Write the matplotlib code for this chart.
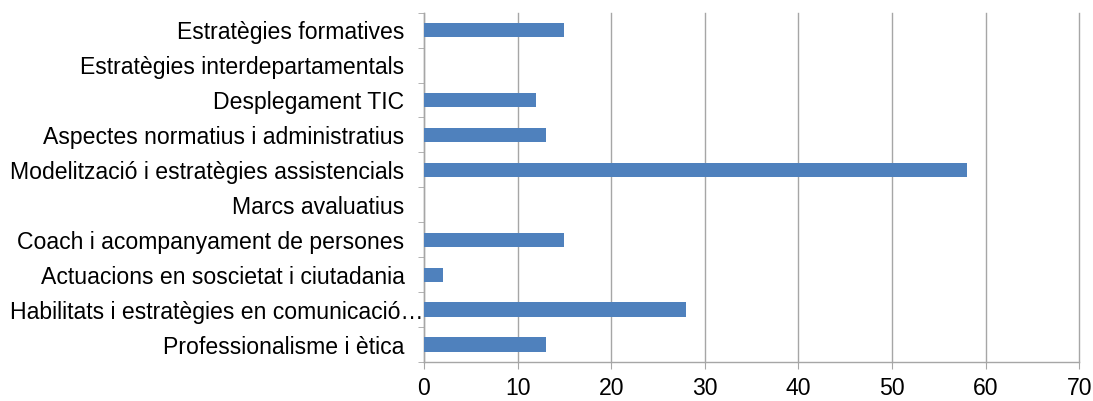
import matplotlib.pyplot as plt
import matplotlib.transforms as mtransforms
import numpy as np

categories = [
    "Estratègies formatives",
    "Estratègies interdepartamentals",
    "Desplegament TIC",
    "Aspectes normatius i administratius",
    "Modelització i estratègies assistencials",
    "Marcs avaluatius",
    "Coach i acompanyament de persones",
    "Actuacions en soscietat i ciutadania",
    "Habilitats i estratègies en comunicació…",
    "Professionalisme i ètica",
]
values = [15, 0, 12, 13, 58, 0, 15, 2, 28, 13]
x_ticks = [0, 10, 20, 30, 40, 50, 60, 70]

plt.rcParams["font.family"] = ["Liberation Sans", "DejaVu Sans"]
plt.rcParams["font.size"] = 16.6

fig = plt.figure(figsize=(10.93, 4.01), dpi=100)
ax = fig.add_axes([0.3879, 0.0973, 0.5995, 0.8710])

grid_col = "#a6a6a6"
y = np.arange(len(categories))
ax.barh(y, values, height=0.41, color="#4f81bd", linewidth=0, zorder=3)

ax.set_xlim(0, 70)
ax.set_ylim(len(categories) - 0.5, -0.5)
ax.set_xticks(x_ticks)
ax.set_yticks(y)
ax.set_yticklabels(categories)
ax.set_yticks(np.arange(len(categories) + 1) - 0.5, minor=True)

ax.xaxis.grid(True, color=grid_col, linewidth=1.0, zorder=0)
for gl in ax.get_xgridlines():
    gl.set_clip_on(False)
ax.tick_params(axis="y", which="major", length=0, pad=14)
ax.tick_params(axis="y", which="minor", length=4.3, color=grid_col, direction="out")
ax.tick_params(axis="x", length=5, color=grid_col, pad=6)

# the truncated label hangs its ellipsis past the others, up to the axis
for lab in ax.get_yticklabels():
    if lab.get_text().endswith("…"):
        shift = mtransforms.ScaledTranslation(0.19, 0, fig.dpi_scale_trans)
        lab.set_transform(lab.get_transform() + shift)

for side in ["top", "right"]:
    ax.spines[side].set_visible(False)
for side in ["left", "bottom"]:
    ax.spines[side].set_color(grid_col)
    ax.spines[side].set_linewidth(1.0)

fig.savefig("out.png", dpi=100)
